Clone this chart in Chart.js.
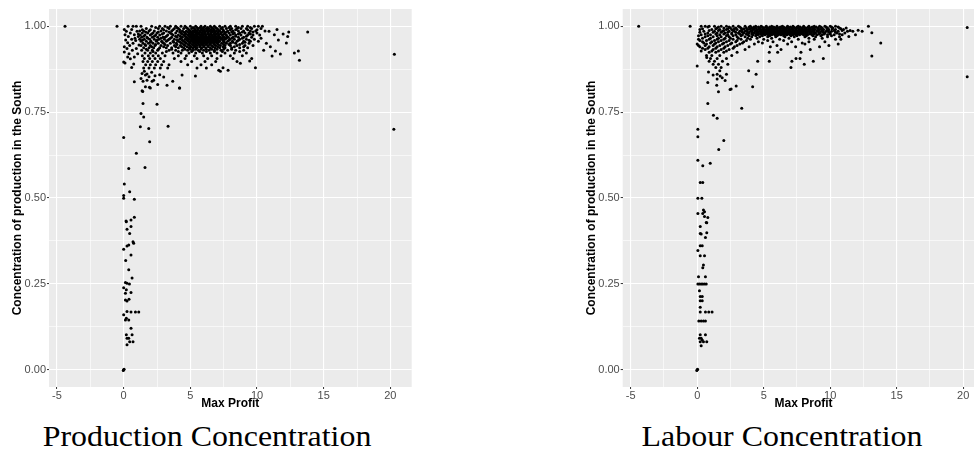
<!DOCTYPE html>
<html>
<head>
<meta charset="utf-8">
<script src="https://cdn.jsdelivr.net/npm/chart.js@4.4.1/dist/chart.umd.min.js"></script>
<style>
  html, body { margin: 0; padding: 0; background: #fff; overflow: hidden; }
  body { width: 974px; height: 452px; position: relative; }
  .panel { position: absolute; top: 0; height: 412px; }
  #wrap-prod { left: 0; width: 420px; }
  #wrap-lab { left: 560px; width: 426px; }
  .caption {
    position: absolute; top: 422px; line-height: 29px; white-space: nowrap;
    font-family: "Liberation Serif", "Times New Roman", serif; font-size: 29px; color: #000;
    transform: translateX(-50%) scaleX(1.1);
  }
</style>
</head>
<body>
<div class="panel" id="wrap-prod"><canvas id="prodChart"></canvas></div>
<div class="panel" id="wrap-lab"><canvas id="labChart"></canvas></div>
<div class="caption" style="left:207px">Production Concentration</div>
<div class="caption" style="left:782px">Labour Concentration</div>

<script>
// --- 1. Data ---
const X_RANGE = [-5.6, 21.6];
const Y_RANGE = [-0.05, 1.05];
const xGrid = [-5, -2.5, 0, 2.5, 5, 7.5, 10, 12.5, 15, 17.5, 20];
const xTicks = [-5, 0, 5, 10, 15, 20];
const yGrid = [0, 0.125, 0.25, 0.375, 0.5, 0.625, 0.75, 0.875, 1];
const yTicks = [0, 0.25, 0.5, 0.75, 1];

// Production concentration: [x, y]
const prodStem = [
  [0.05,0.541],[0.45,0.518],[0,0.507],[0,0.499],[0.8,0.496],
  [0.18,0.433],[0.55,0.436],[0.8,0.444],[0.2,0.431],[0.55,0.417],[0.25,0.409],[0.45,0.397],
  [0.7,0.373],[0.75,0.368],[0,0.351],[0.25,0.36],[0.38,0.363],[0.55,0.334],[0.15,0.318],
  [0.38,0.291],[0.63,0.267],[0.13,0.254],[0.25,0.252],[0.43,0.25],[0,0.239],[0.2,0.233],
  [0.55,0.225],[0.13,0.223],[0.25,0.2],[0.13,0.203],[0.4,0.205],
  [0.25,0.17],[0.55,0.168],[0.88,0.168],[1.13,0.168],[0,0.16],[0.2,0.15],[0.13,0.145],[0.38,0.145],
  [0.55,0.121],[0.2,0.102],[0.63,0.102],[0.25,0.092],[0.38,0.092],[0.7,0.082],[0.25,0.073],[0.45,0.082],
  [0,0],[0.03,0.002],[-0.03,-0.002]
];
const prodMid = [
  [0,0.676],[0.38,0.586],[1.6,0.589],[0.95,0.63],[1.95,0.664],[1.25,0.707],[1.88,0.702],[3.33,0.709],
  [2.5,0.773],[1.45,0.775],[1.3,0.746],[1.5,0.736],
  [1.43,0.81],[1.38,0.812],[1.63,0.824],[2.0,0.82],[1.93,0.822],[2.55,0.83],[3.25,0.828],[4.2,0.82],
  [3.68,0.84],[0.8,0.838],[1.45,0.84],[2.13,0.84],[2.25,0.843],[1.75,0.843],[4.18,0.82],
  [1.63,0.858],[1.75,0.861],[1.38,0.862],[4.38,0.858],[5.38,0.855],[1.3,0.848],[1.9,0.853],
  [2.35,0.856],[2.7,0.859],[3.0,0.852],[2.1,0.866],[1.55,0.869]
];
const prodTail = [
  [-4.4,1.0],[-0.5,1.0],[20.3,0.918],[20.26,0.70],
  [11.96,0.977],[12.38,0.983],[13.8,0.983],[12.2,0.951],[12.8,0.922],[13.1,0.928],[13.18,0.901],
  [11.38,0.928],[11.75,0.919],[11.13,0.913],[9.88,0.879],[8.75,0.892],[9.45,0.899],[7.83,0.872],
  [7.13,0.872],[7.25,0.869],[7.45,0.879],
  [10.9,0.985],[11.3,0.975],[11.6,0.96],[10.7,0.95],[11.0,0.94],[10.5,0.93],[11.5,0.99],[10.3,0.965],[12.3,0.97]
];
const prodEdge = [
  [0.05,0.99],[0.2,0.985],[0.1,0.975],[0.35,0.97],[0.5,0.98],[0.15,0.96],[0.3,0.952],[0.6,0.962],
  [0.8,0.975],[0.05,0.94],[0.25,0.935],[0.45,0.944],[0.7,0.95],[0.9,0.958],[1.1,0.97],[0.05,0.925],
  [0.4,0.92],[0.65,0.93],[0.95,0.935],[0.0,0.896],[0.1,0.893],[0.5,0.905],[0.8,0.91],[1.05,0.92],
  [0.75,0.89],[1.15,0.945],[0.33,1.0],[0.7,1.0],[0.95,1.0],[1.0,0.985],[0.6,0.99],[0.85,0.965],
  [0.3,0.91],[0.6,0.88]
];
// dense band: [y, x values at that level]
const prodBand = [
  [1.000, [1.3,2.1,2.7,3.1,3.5,3.9,4.3,4.6,5.0,5.4,5.8,6.1,6.5,6.8,7.2,7.6,8.0,8.4,8.9,9.3,9.8,10.1,10.4]],
  [0.9965, [2.4,3.3,4.0,4.7,5.2,5.5,5.75,6.0,6.3,6.6,6.9,7.4,7.9,8.6,9.5]],
  [0.993, [1.7,2.6,2.9,3.4,3.8,4.1,4.5,4.8,5.1,5.3,5.6,5.9,6.2,6.4,6.7,7.0,7.3,7.7,8.1,8.5,8.8,9.2,9.6,10.3]],
  [0.9895, [1.4,2.0,3.0,3.7,4.2,4.9,5.35,5.55,5.8,6.05,6.3,6.55,6.8,7.1,7.45,8.0,8.4,9.3,10.0]],
  [0.986, [1.2,1.5,1.9,2.3,2.8,3.2,3.6,4.0,4.4,4.7,5.0,5.2,5.45,5.7,5.95,6.2,6.45,6.7,6.95,7.2,7.5,7.8,8.2,8.6,9.0,9.5,9.9,10.6]],
  [0.983, [1.65,2.6,3.4,4.2,4.5,4.8,5.05,5.3,5.5,5.7,5.9,6.1,6.35,6.6,6.85,7.1,7.4,7.7,8.1,8.9,9.7]],
  [0.980, [1.4,1.8,2.2,2.5,3.0,3.5,3.9,4.3,4.6,4.9,5.15,5.4,5.6,5.85,6.05,6.3,6.55,6.8,7.05,7.3,7.6,7.9,8.3,8.7,9.1,9.4,10.0]],
  [0.977, [1.1,2.1,2.9,3.6,4.35,4.65,4.95,5.2,5.45,5.65,5.85,6.1,6.3,6.5,6.75,6.95,7.25,7.55,8.2,8.6,9.5]],
  [0.974, [1.25,1.6,2.0,2.4,2.7,3.3,3.7,4.1,4.5,4.8,5.05,5.3,5.5,5.75,5.95,6.15,6.4,6.6,6.85,7.1,7.4,7.7,8.0,8.4,8.8,9.3,9.7,10.2]],
  [0.971, [1.5,2.3,3.2,3.9,4.25,4.6,4.9,5.15,5.35,5.55,5.8,6.0,6.2,6.45,6.7,6.9,7.15,7.45,7.75,8.4,9.2]],
  [0.968, [1.35,1.75,2.15,2.55,2.95,3.1,3.6,4.0,4.4,4.7,5.0,5.25,5.45,5.65,5.9,6.1,6.35,6.55,6.8,7.0,7.25,7.55,7.85,8.2,8.6,9.0,9.6]],
  [0.965, [1.8,2.8,3.5,4.3,4.8,5.1,5.3,5.5,5.75,5.95,6.2,6.4,6.65,6.9,7.15,7.4,7.7,8.1,8.9]],
  [0.962, [1.2,1.55,1.95,2.3,2.65,3.05,3.4,3.8,4.2,4.6,4.9,5.15,5.4,5.6,5.85,6.05,6.3,6.5,6.75,7.0,7.3,7.6,7.95,8.3,8.7,9.2,9.8]],
  [0.959, [1.4,2.5,3.3,4.0,4.4,4.75,5.05,5.25,5.5,5.7,5.95,6.15,6.4,6.6,6.85,7.1,7.45,7.9,8.6,9.4]],
  [0.956, [1.3,1.7,2.05,2.45,2.85,3.2,3.7,4.1,4.5,4.85,5.1,5.35,5.6,5.8,6.05,6.25,6.5,6.7,6.95,7.2,7.5,7.8,8.15,8.5,9.0,9.5,10.1]],
  [0.953, [2.0,2.9,3.75,4.25,4.6,4.95,5.2,5.45,5.7,5.9,6.15,6.35,6.6,6.85,7.1,7.55,8.2,9.1]],
  [0.950, [1.45,1.85,2.2,2.6,3.0,3.5,3.95,4.35,4.7,5.0,5.3,5.55,5.8,6.0,6.25,6.5,6.75,7.0,7.35,7.7,8.0,8.4,8.9,9.4]],
  [0.947, [1.6,2.4,3.1,4.0,4.5,4.85,5.15,5.4,5.65,5.9,6.15,6.45,6.8,7.1,7.5,7.9,8.7]],
  [0.944, [1.3,1.65,2.0,2.35,2.8,3.3,3.8,4.25,4.6,4.95,5.25,5.5,5.75,6.0,6.3,6.6,6.9,7.25,7.6,8.0,8.5,9.1,9.7]],
  [0.940, [2.1,3.0,3.9,4.35,4.75,5.05,5.35,5.7,6.0,6.35,6.7,7.05,7.45,8.3,9.0]],
  [0.937, [1.5,1.9,2.25,2.7,3.2,3.6,4.1,4.5,4.9,5.2,5.5,5.85,6.15,6.5,6.85,7.2,7.6,8.1,8.7,9.3]],
  [0.933, [1.7,2.6,3.6,4.6,5.0,5.4,5.8,6.2,6.6,7.0,7.5,8.1]],
  [0.930, [1.35,1.8,2.15,2.55,3.4,3.9,4.4,4.8,5.2,5.6,6.0,6.4,6.8,7.3,7.8,8.4,9.0]],
  [0.926, [2.2,3.2,4.1,5.1,5.7,6.2,6.8,7.4,8.7]],
  [0.922, [1.6,2.0,2.4,2.9,3.7,4.3,4.9,5.4,5.9,6.5,7.0,7.6,8.3,9.2]],
  [0.914, [1.4,1.85,2.2,2.6,3.1,4.1,4.7,5.3,6.0,6.6,7.3,8.0,8.9]],
  [0.906, [1.55,1.95,2.35,2.75,3.8,4.6,5.5,6.3,7.0,8.2,9.6]],
  [0.897, [1.45,1.8,2.15,2.55,3.0,4.3,5.1,6.1,6.9,8.5]],
  [0.888, [1.65,2.0,2.4,2.85,3.4,4.8,5.8,6.6]],
  [0.878, [1.5,1.9,2.3,2.75,3.3,5.5,6.2]]
];

// Labour concentration: [x, y]
const labStem = [
  [0.05,0.61],[0.42,0.594],[0.98,0.601],[0.23,0.545],[0.42,0.545],[0.05,0.499],[0.35,0.499],
  [0.05,0.455],[0.47,0.465],[0.55,0.46],[0.42,0.455],[0.55,0.446],[0.8,0.443],[0.68,0.429],
  [0.72,0.428],[0.23,0.417],[0.23,0.397],[0.3,0.395],[0.72,0.399],[0.62,0.385],
  [0.23,0.361],[0.38,0.361],[0.05,0.347],[0.23,0.332],[0.55,0.332],[0.47,0.305],[0.42,0.297],
  [0.1,0.271],[0.62,0.271],[0.05,0.25],[0.17,0.25],[0.3,0.25],[0.42,0.25],[0.55,0.25],[0.68,0.25],
  [0.17,0.23],[0.23,0.213],[0.38,0.213],[0.23,0.201],[0.38,0.201],[0.23,0.182],
  [0.23,0.168],[0.62,0.168],[0.87,0.168],[1.12,0.168],[0.12,0.142],[0.3,0.142],[0.47,0.142],[0.62,0.142],
  [0.23,0.102],[0.62,0.102],[0.17,0.092],[0.3,0.092],[0.38,0.087],[0.47,0.082],[0.72,0.082],[0.23,0.082],[0.3,0.07],
  [0,0],[0.03,0.002],[-0.03,-0.002]
];
const labMid = [
  [0.05,0.70],[0.05,0.678],[2.0,0.667],[1.62,0.641],[0.8,0.775],[3.35,0.761],[1.22,0.741],[1.5,0.732],
  [0.8,0.836],[1.5,0.846],[1.88,0.85],[1.73,0.855],[1.47,0.828],[1.6,0.809],[2.55,0.817],[2.93,0.826],
  [4.17,0.824],[2.47,0.816],[0.85,0.867],[4.43,0.86],[1.2,0.858],[2.1,0.842],[0.0,0.884],[0.72,0.909]
];
const labTail = [
  [-4.4,1.0],[-0.53,1.0],[20.3,0.996],[20.3,0.853],[12.87,1.0],[13.13,0.981],[13.8,0.951],[13.13,0.913],
  [11.7,0.985],[12.1,0.988],[12.4,0.985],[11.4,0.97],[10.8,0.962],[11.9,0.975]
];
const labBand = [
  [1.000, [0.3,0.6,0.9,1.3,1.8,2.2,2.7,3.1,3.6,4.0,4.4,4.8,5.2,5.6,6.0,6.4,6.8,7.2,7.6,8.0,8.4,8.8,9.2,9.6,10.0,10.4]],
  [0.9975, [0.8,1.6,2.4,3.2,3.9,4.25,4.6,4.9,5.15,5.45,5.75,6.0,6.25,6.5,6.75,7.0,7.25,7.5,7.75,8.05,8.35,8.65,8.95,9.3,9.7,10.1,10.6]],
  [0.995, [1.5,2.0,2.5,2.9,3.3,3.7,4.1,4.4,4.7,5.0,5.3,5.6,5.85,6.1,6.35,6.6,6.85,7.1,7.35,7.6,7.9,8.2,8.5,8.8,9.1,9.4,9.8,10.2,10.7,11.2]],
  [0.9925, [0.4,1.4,2.3,2.8,3.5,3.95,4.3,4.65,4.95,5.25,5.5,5.75,5.95,6.2,6.45,6.65,6.9,7.15,7.4,7.65,7.85,8.1,8.4,8.7,9.05,9.35,9.75,10.15,10.8]],
  [0.990, [0.2,1.1,1.7,2.2,2.6,3.0,3.4,3.8,4.2,4.5,4.8,5.1,5.35,5.6,5.8,6.0,6.25,6.5,6.7,6.95,7.2,7.45,7.7,7.95,8.25,8.55,8.85,9.2,9.5,9.9,10.4,11.0]],
  [0.9875, [0.9,1.6,2.0,2.7,3.3,3.7,4.1,4.45,4.8,5.05,5.3,5.55,5.8,6.05,6.3,6.5,6.75,6.95,7.2,7.4,7.65,7.9,8.15,8.45,8.75,9.1,9.45,9.85,10.3,10.9,11.5]],
  [0.985, [0.5,1.3,1.9,2.4,2.8,3.2,3.6,4.0,4.35,4.65,4.95,5.2,5.45,5.7,5.95,6.15,6.4,6.6,6.85,7.05,7.3,7.55,7.8,8.05,8.35,8.65,9.0,9.35,9.7,10.1,10.6,11.3]],
  [0.9825, [0.2,1.2,1.8,2.3,2.9,3.4,3.8,4.15,4.5,4.8,5.05,5.3,5.55,5.8,6.0,6.25,6.45,6.7,6.9,7.15,7.4,7.65,7.9,8.2,8.5,8.8,9.15,9.5,9.9,10.4]],
  [0.980, [0.8,1.5,2.1,2.6,3.1,3.5,3.9,4.3,4.6,4.9,5.15,5.4,5.65,5.9,6.1,6.35,6.55,6.8,7.0,7.25,7.5,7.75,8.0,8.3,8.6,8.9,9.25,9.6,10.0,10.5,11.1]],
  [0.9775, [0.6,1.4,2.0,2.6,3.2,3.7,4.1,4.45,4.75,5.0,5.25,5.5,5.75,6.0,6.2,6.45,6.65,6.9,7.1,7.35,7.6,7.9,8.15,8.5,8.8,9.15,9.55,10.0,10.7]],
  [0.975, [0.3,1.0,1.7,2.3,2.9,3.4,3.8,4.2,4.55,4.85,5.1,5.35,5.6,5.85,6.1,6.3,6.55,6.75,7.0,7.2,7.45,7.7,8.0,8.3,8.65,9.0,9.4,9.8,10.3,10.9]],
  [0.9725, [0.1,0.8,1.5,2.2,2.7,3.3,3.9,4.4,4.9,5.45,6.0,6.5,7.05,7.5,8.2,8.7,9.3,10.1]],
  [0.969, [0.6,1.2,1.8,2.4,3.0,3.6,4.1,4.7,5.3,5.9,6.6,7.3,8.1,8.9,9.8,10.7]],
  [0.965, [0.4,1.0,1.6,2.1,2.5,3.1,3.8,4.5,5.6,6.9,8.4,9.4]],
  [0.962, [0.1,0.9,1.5,2.0,2.7,3.3,4.0,5.0,6.2,7.6,8.8,10.4]],
  [0.958, [0.2,0.7,1.3,1.8,2.4,3.0,3.7,5.3,6.5]],
  [0.955, [0.4,1.1,1.6,2.2,2.9,3.5,4.6,5.7,7.1,8.4,9.6]],
  [0.951, [0.5,1.0,1.4,2.0,2.6,3.4,4.9,7.9]],
  [0.948, [0.0,0.7,1.3,1.9,2.5,3.2,4.3,6.8,8.1,10.6]],
  [0.944, [0.1,0.6,1.2,1.7,2.3,3.0,6.0,9.9]],
  [0.940, [0.2,0.9,1.5,2.1,2.8,3.9,5.5,7.4,9.2]],
  [0.936, [0.4,0.8,1.4,2.0,2.7]],
  [0.932, [0.6,1.2,1.8,2.4,3.6,6.3,8.5]],
  [0.928, [0.3,1.1,1.6,2.2]],
  [0.924, [0.9,1.4,2.0,3.0,5.42,6.05,7.8]],
  [0.915, [0.7,1.1,1.7,2.6]],
  [0.906, [1.0,1.5,2.2,7.43,7.73,9.48]],
  [0.898, [0.9,1.3,1.9,4.55,5.42,7.12,8.73]],
  [0.889, [1.2,1.6,2.3,8.05]],
  [0.880, [1.4,1.8,7.05]],
  [0.870, [1.7,3.87]],
  [0.860, [1.5,2.2]]
];

// --- 2. Helpers ---
const toPts = arr => arr.map(([x, y]) => ({ x, y }));
const bandPts = rows => rows.flatMap(([y, xs]) => xs.map(x => ({ x, y })));

const FONT = "'Liberation Sans', Arial, sans-serif";

// gray ggplot-style panel behind the grid
const panelBackground = {
  id: 'panelBackground',
  beforeDraw(chart) {
    const { ctx, chartArea: a } = chart;
    ctx.save();
    ctx.fillStyle = '#EBEBEB';
    ctx.fillRect(a.left, a.top, a.right - a.left, a.bottom - a.top);
    ctx.restore();
  }
};

function scatterPanel(canvasId, points, yAxisWidth, yTitlePad, rightPad) {
  return new Chart(document.getElementById(canvasId), {
    type: 'scatter',
    data: {
      datasets: [{
        data: points,
        pointRadius: 1.5,
        pointHoverRadius: 1.5,
        backgroundColor: '#000',
        borderWidth: 0
      }]
    },
    options: {
      responsive: true,
      maintainAspectRatio: false,
      animation: false,
      events: [],
      layout: { padding: { top: 9, right: rightPad, left: 0, bottom: 0 } },
      plugins: { legend: { display: false }, tooltip: { enabled: false } },
      scales: {
        x: {
          type: 'linear', min: X_RANGE[0], max: X_RANGE[1],
          afterBuildTicks: s => { s.ticks = xGrid.map(v => ({ value: v })); },
          afterFit: s => { s.height = 25; },
          border: { display: false },
          grid: {
            color: '#fff',
            lineWidth: c => (c.tick && xTicks.includes(c.tick.value)) ? 1.1 : 0.6,
            tickColor: c => (c.tick && xTicks.includes(c.tick.value)) ? '#333' : 'rgba(0,0,0,0)',
            tickLength: 2, tickWidth: 1
          },
          ticks: {
            autoSkip: false, maxRotation: 0, padding: 0, color: '#4D4D4D',
            font: { family: FONT, size: 11 },
            callback: v => xTicks.includes(v) ? String(v) : ''
          },
          title: {
            display: true, text: 'Max Profit', color: '#000',
            font: { family: FONT, size: 12, weight: 'bold' },
            padding: { top: 0, bottom: 1.5 }
          }
        },
        y: {
          type: 'linear', min: Y_RANGE[0], max: Y_RANGE[1],
          afterBuildTicks: s => { s.ticks = yGrid.map(v => ({ value: v })); },
          afterFit: s => { s.width = yAxisWidth; },
          border: { display: false },
          grid: {
            color: '#fff',
            lineWidth: c => (c.tick && yTicks.includes(c.tick.value)) ? 1.1 : 0.6,
            tickColor: c => (c.tick && yTicks.includes(c.tick.value)) ? '#333' : 'rgba(0,0,0,0)',
            tickLength: 2, tickWidth: 1
          },
          ticks: {
            autoSkip: false, padding: 1, color: '#4D4D4D',
            font: { family: FONT, size: 11 },
            callback: v => yTicks.includes(v) ? v.toFixed(2) : ''
          },
          title: {
            display: true, text: 'Concentration of production in the South', color: '#000',
            font: { family: FONT, size: 12, weight: 'bold' },
            padding: { top: yTitlePad, bottom: 0 }
          }
        }
      }
    },
    plugins: [panelBackground]
  });
}

// --- 3. Panels ---
const prodPoints = [...bandPts(prodBand), ...toPts(prodEdge), ...toPts(prodMid), ...toPts(prodStem), ...toPts(prodTail)];
const labPoints = [...bandPts(labBand), ...toPts(labMid), ...toPts(labStem), ...toPts(labTail)];

scatterPanel('prodChart', prodPoints, 49, 10.5, 8.3);
scatterPanel('labChart', labPoints, 62.7, 24.8, 0.6);
</script>
</body>
</html>
